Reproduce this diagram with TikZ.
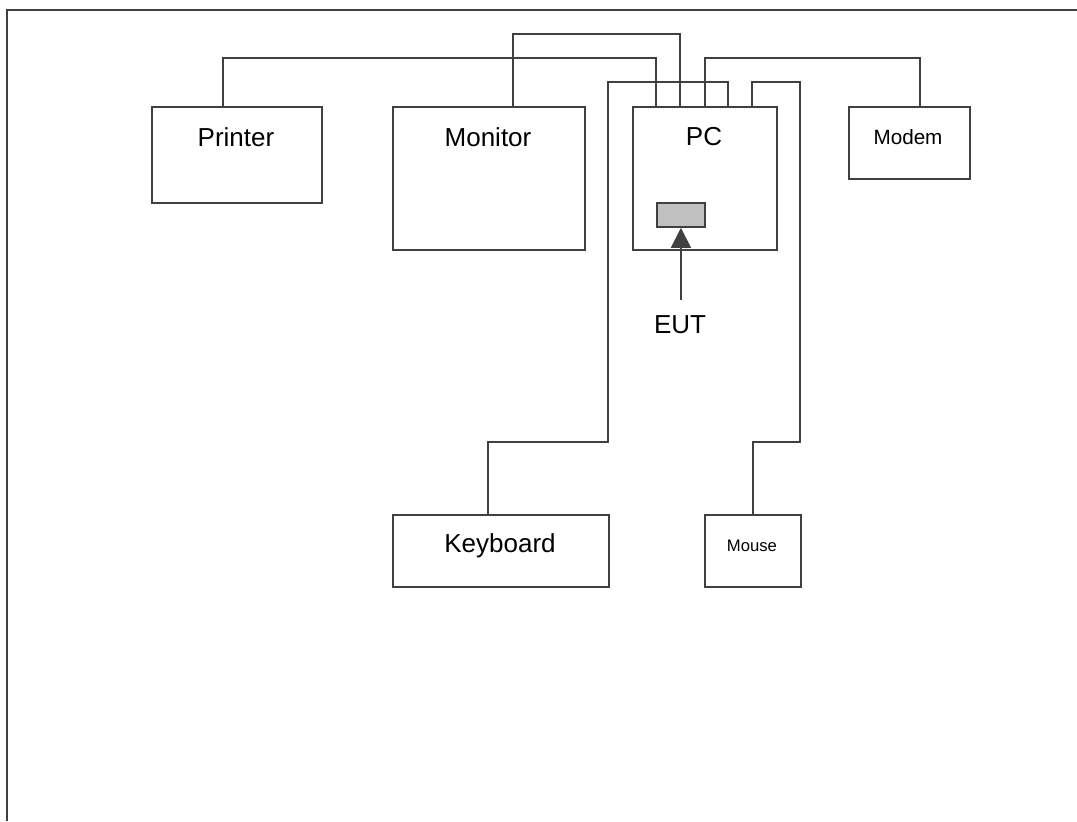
\documentclass[tikz,border=0pt]{standalone}
\usepackage{fontspec}
\setmainfont{Liberation Sans}
\usepackage{tikz}
\usetikzlibrary{arrows.meta}
\usetikzlibrary{calc}

\definecolor{linec}{RGB}{64,64,64}
\definecolor{portc}{RGB}{192,192,192}

\tikzset{
  unit/.style={draw=linec, line width=1.4pt, fill=white, inner sep=0pt, anchor=north west},
  wire/.style={draw=linec, line width=1.4pt},
  bigtxt/.style={inner sep=0pt, font=\fontsize{19.5}{22}\selectfont},
  midtxt/.style={inner sep=0pt, font=\fontsize{15.5}{18}\selectfont},
  smalltxt/.style={inner sep=0pt, font=\fontsize{12.5}{15}\selectfont},
  pointer/.style={draw=linec, line width=1.4pt, -{Triangle[length=15pt,width=15pt,fill=linec]}}
}

\begin{document}
\begin{tikzpicture}[x=0.75pt,y=0.75pt,yscale=-1,xscale=1]
    \useasboundingbox (0,0) rectangle (1077,821);

    %Frame
    \draw [draw=linec, line width=2pt] (1077,10) -- (7,10) -- (7,821) ;

    %Shape: Rectangle [printer]
    \node [unit, minimum width=127.5pt, minimum height=72pt] (printer) at (151,106) {};
    %Shape: Rectangle [monitor]
    \node [unit, minimum width=144pt, minimum height=107.25pt] (monitor) at (392,106) {};
    %Shape: Rectangle [pc]
    \node [unit, minimum width=108pt, minimum height=107.25pt] (pc) at (632,106) {};
    %Shape: Rectangle [modem]
    \node [unit, minimum width=90.75pt, minimum height=54pt] (modem) at (848,106) {};
    %Shape: Rectangle [keyboard]
    \node [unit, minimum width=162pt, minimum height=54pt] (keyboard) at (392,514) {};
    %Shape: Rectangle [mouse]
    \node [unit, minimum width=72pt, minimum height=54pt] (mouse) at (704,514) {};
    %Shape: Rectangle [port]
    \node [unit, fill=portc, minimum width=36pt, minimum height=18pt] (port) at (656,202) {};

    % Text Node
    \node [bigtxt] (printertxt) at (236,137) {Printer};
    % Text Node
    \node [bigtxt] (monitortxt) at (488,137) {Monitor};
    % Text Node
    \node [bigtxt] (pctxt) at (704,137) {PC};
    % Text Node
    \node [midtxt] (modemtxt) at (908,137) {Modem};
    % Text Node
    \node [bigtxt] (keyboardtxt) at (500,546) {Keyboard};
    % Text Node
    \node [smalltxt] (mousetxt) at (752,546) {Mouse};
    % Text Node
    \node [bigtxt] (eut) at (680,325) {EUT};

    %Cables
    \draw [wire] ($(printer.north west)+(72,0)$) -- ++(0,-48) -| ($(pc.north west)+(24,0)$) ;
    \draw [wire] ($(monitor.north west)+(121,0)$) -- ++(0,-72) -| ($(pc.north west)+(48,0)$) ;
    \draw [wire] ($(modem.north west)+(72,0)$) -- ++(0,-48) -| (pc.north) ;
    \draw [wire] ($(pc.north west)+(96,0)$) -- ++(0,-24) -| ++(-120,360) -| ($(keyboard.north west)+(96,0)$) ;
    \draw [wire] ($(pc.north west)+(120,0)$) -- ++(0,-24) -| ++(48,360) -| (mouse.north) ;

    %Arrow
    \coordinate (euttail) at ($(port.south)+(0,72)$);
    \draw [pointer] (euttail) -- (port.south) ;

\end{tikzpicture}
\end{document}
